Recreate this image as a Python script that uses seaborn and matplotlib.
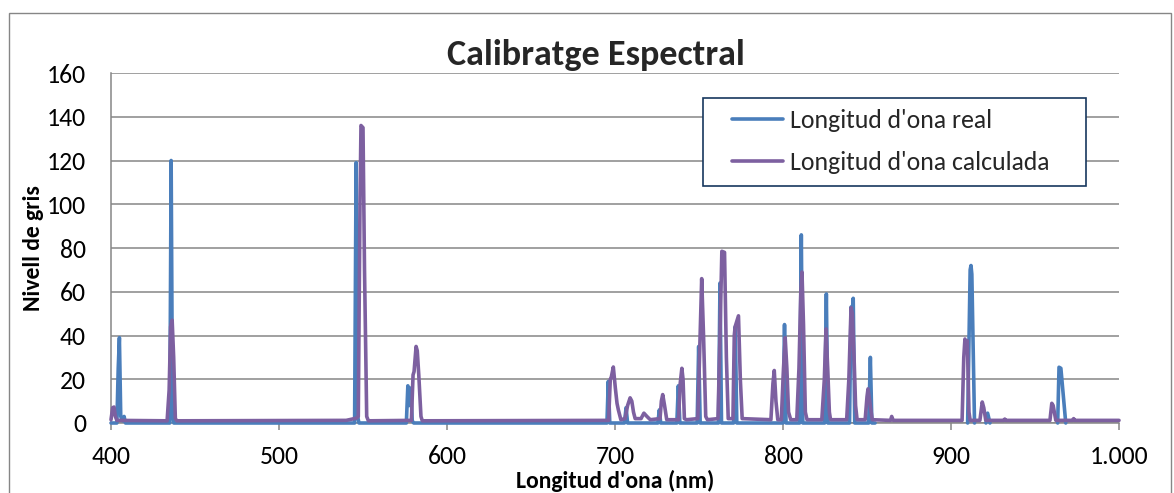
import matplotlib

matplotlib.use("Agg")

import matplotlib.pyplot as plt
import pandas as pd
import seaborn as sns
from matplotlib.patches import Rectangle


# --- dades llegides del grafic -------------------------------------------
SERIE_REAL = "Longitud d'ona real"
SERIE_CALC = "Longitud d'ona calculada"

# longitud d'ona real: trams separats (Excel deixa buits entre ells)
real_nm = [
    400.0, 403.5, 404.3, 405.0, 405.8, 407.0, 407.8, 408.6,
    435.0, 435.8, 436.6, 437.4,
    545.0, 545.9, 546.8, 547.6,
    575.8, 576.7, 577.5, 578.5, 579.3, 580.2,
    695.2, 696.0, 696.9,
    705.6, 706.6, 707.5,
    725.5, 726.4, 727.2,
    736.8, 737.7, 738.6,
    748.9, 749.8, 750.7,
    761.6, 762.5, 763.4,
    770.6, 771.6, 772.5,
    800.0, 800.9, 801.8,
    809.9, 810.9, 811.8,
    824.8, 825.8, 826.7,
    839.6, 840.5, 841.1, 841.8, 842.7,
    851.0, 852.0, 852.9, 854.8,
    909.9, 911.4, 911.9, 912.4, 914.0,
    920.8, 921.8, 923.2,
    963.5, 964.3, 965.4, 968.3,
]
real_gris = [
    0, 0, 25, 39, 3, 1, 3, 0,
    0, 120, 5, 0,
    0, 119, 3, 0,
    0, 17, 8, 16, 1, 0,
    0, 19, 0,
    0, 7, 0,
    0, 6, 0,
    0, 17, 0,
    0, 35, 0,
    0, 64, 0,
    0, 44, 0,
    0, 45, 0,
    0, 86, 0,
    0, 59, 0,
    0, 53, 50, 57, 0,
    0, 30, 0, 0,
    0, 70, 72, 68, 0,
    0, 4.5, 0,
    0, 25.5, 25, 0,
]
real_tram = [1] * 61 + [2] * 5 + [3] * 3 + [4] * 4

# longitud d'ona calculada: una sola serie continua
calc_nm = [
    400.0, 401.0, 401.8, 402.6, 403.5,
    433.4, 434.6, 435.5, 436.4, 437.3, 438.3, 439.2,
    540.0, 546.0, 547.2, 548.2, 548.8, 550.0, 550.9, 552.2, 553.2,
    578.8, 579.8, 580.4, 581.6, 582.3, 583.2, 584.5, 585.3,
    696.2, 697.2, 697.8, 699.0, 700.2, 701.2, 702.0, 703.5,
    706.0, 707.5, 709.0, 710.0, 711.0, 712.0,
    715.5, 717.2, 719.0, 721.0,
    726.8, 727.6, 728.4, 729.5, 730.8,
    737.8, 738.8, 739.8, 740.5, 741.3, 742.5,
    749.3, 750.5, 751.6, 752.7, 754.0, 755.0,
    761.3, 762.5, 763.6, 765.2, 766.3, 767.4,
    770.2, 771.0, 771.5, 772.3, 773.5, 774.6, 775.7,
    792.8, 794.0, 794.8, 795.8, 796.9,
    799.0, 800.3, 801.3, 802.3, 803.3, 804.6,
    808.2, 809.5, 810.6, 811.3, 812.2, 813.3, 814.3,
    823.1, 824.6, 825.6, 826.6, 827.6, 828.3,
    837.9, 839.2, 840.5, 841.3, 842.3, 843.2, 844.1,
    848.9, 850.0, 850.6, 851.6, 853.1,
    864.0, 864.7, 865.6,
    906.6, 907.6, 908.3, 909.0, 909.7, 910.7, 911.4,
    917.2, 918.6, 919.5, 920.7,
    931.5, 932.0, 932.5,
    958.9, 960.0, 960.8, 962.4,
    972.5, 973.0, 973.5,
    1000.0,
]
calc_gris = [
    1.5, 7, 7.3, 3, 1.2,
    1, 15, 44, 47, 30, 2, 1,
    1.2, 2.2, 3, 100, 136, 135, 70, 3, 1,
    1.2, 22, 23.5, 35, 33, 22, 3, 1,
    1.2, 20, 21, 25.6, 16, 9, 6, 1.5,
    2, 8, 11.5, 10, 5, 2,
    2, 4.5, 3, 1.5,
    2, 10, 13, 8, 1.5,
    1.5, 18, 25, 20, 2, 1.5,
    2, 35, 66, 40, 3, 1.5,
    2, 40, 78.5, 78, 30, 2,
    2, 40, 44, 46, 49, 20, 2,
    1.5, 18, 24, 10, 1.5,
    1.5, 25, 39, 25, 5, 1.5,
    1.5, 25, 60, 69, 45, 5, 1.5,
    1.5, 20, 43, 25, 5, 1.5,
    1.5, 20, 52.7, 50, 30, 8, 1.5,
    1.5, 12, 15.6, 10, 1.5,
    1.2, 3, 1.2,
    1.2, 30, 38.4, 36, 37.6, 5, 1.2,
    1.2, 9.6, 7, 1.2,
    1.2, 1.8, 1.2,
    1.2, 9, 8, 1.2,
    1.2, 2, 1.2,
    1.2,
]

x_ticks = [400, 500, 600, 700, 800, 900, 1000]
x_tick_labels = ["400", "500", "600", "700", "800", "900", "1.000"]
y_ticks = [0, 20, 40, 60, 80, 100, 120, 140, 160]

COLORS = {SERIE_REAL: "#4A7EBB", SERIE_CALC: "#7D60A0"}
GRID = "#868686"

# --- taula per a seaborn ---------------------------------------------------
df_real = pd.DataFrame({"nm": real_nm, "gris": real_gris, "tram": real_tram})
df_real["serie"] = SERIE_REAL
df_calc = pd.DataFrame({"nm": calc_nm, "gris": calc_gris})
df_calc["tram"] = 10
df_calc["serie"] = SERIE_CALC
df = pd.concat([df_real, df_calc], ignore_index=True)
df["tram"] = df["serie"] + df["tram"].astype(str)

sns.set_theme(style="white")
plt.rcParams["font.family"] = ["Carlito", "Lato", "DejaVu Sans"]

fig = plt.figure(figsize=(11.74, 4.93), dpi=100)
ax = fig.add_axes([111 / 1174, 1 - 423 / 493, 1008 / 1174, 350 / 493])

sns.lineplot(
    data=df,
    x="nm",
    y="gris",
    hue="serie",
    units="tram",
    estimator=None,
    palette=COLORS,
    hue_order=[SERIE_REAL, SERIE_CALC],
    linewidth=2.6,
    ax=ax,
)
for line in ax.lines:
    line.set_clip_on(False)
    line.set_zorder(3)
    line.set_solid_joinstyle("round")

ax.set_xlim(400, 1000)
ax.set_ylim(0, 160)
ax.set_xticks(x_ticks)
ax.set_xticklabels(x_tick_labels)
ax.set_yticks(y_ticks)

ax.set_axisbelow(True)
ax.yaxis.grid(True, color=GRID, linewidth=1.1)
ax.xaxis.grid(False)
for side in ["top", "right"]:
    ax.spines[side].set_visible(False)
for side in ["left", "bottom"]:
    ax.spines[side].set_color(GRID)
    ax.spines[side].set_linewidth(1.1)

ax.tick_params(axis="x", bottom=True, length=5, width=1.1, color=GRID, pad=11, labelsize=18.5, labelcolor="black")
ax.tick_params(axis="y", left=False, length=0, pad=18, labelsize=18.5, labelcolor="black")

ax.set_xlabel("Longitud d'ona (nm)", fontsize=17, fontweight="bold", color="black")
ax.xaxis.set_label_coords(0.5, -0.133)
ax.set_ylabel("Nivell de gris", fontsize=17, fontweight="bold", color="black")
ax.yaxis.set_label_coords(-0.066, 0.5)

fig.text(596 / 1174, 1 - 65 / 493, "Calibratge Espectral", ha="center", va="baseline",
         fontsize=26, fontweight="bold")

# caixa de la llegenda a la manera d'Excel
handles, labels = ax.get_legend_handles_labels()
if ax.get_legend() is not None:
    ax.get_legend().remove()
ax.add_patch(Rectangle((703 / 1174, 1 - 186 / 493), 383 / 1174, 88 / 493, transform=fig.transFigure,
                       facecolor="white", edgecolor="#17375E", linewidth=1.2, zorder=4, clip_on=False))
leg = ax.legend(handles, labels, loc="upper left", bbox_to_anchor=(732 / 1174, 1 - 109 / 493),
                bbox_transform=fig.transFigure, frameon=False, fontsize=18.5, borderpad=0,
                borderaxespad=0, handlelength=2.0, handletextpad=0.25, labelspacing=0.72)
leg.set_zorder(5)
for h in leg.get_lines():
    h.set_linewidth(2.6)

fig.patches.append(Rectangle((9 / 1174, -0.01), 1162 / 1174, (493 - 12.5) / 493 + 0.01, transform=fig.transFigure,
                             fill=False, edgecolor=GRID, linewidth=1.0))

fig.savefig("out.png", dpi=100)
plt.close(fig)
